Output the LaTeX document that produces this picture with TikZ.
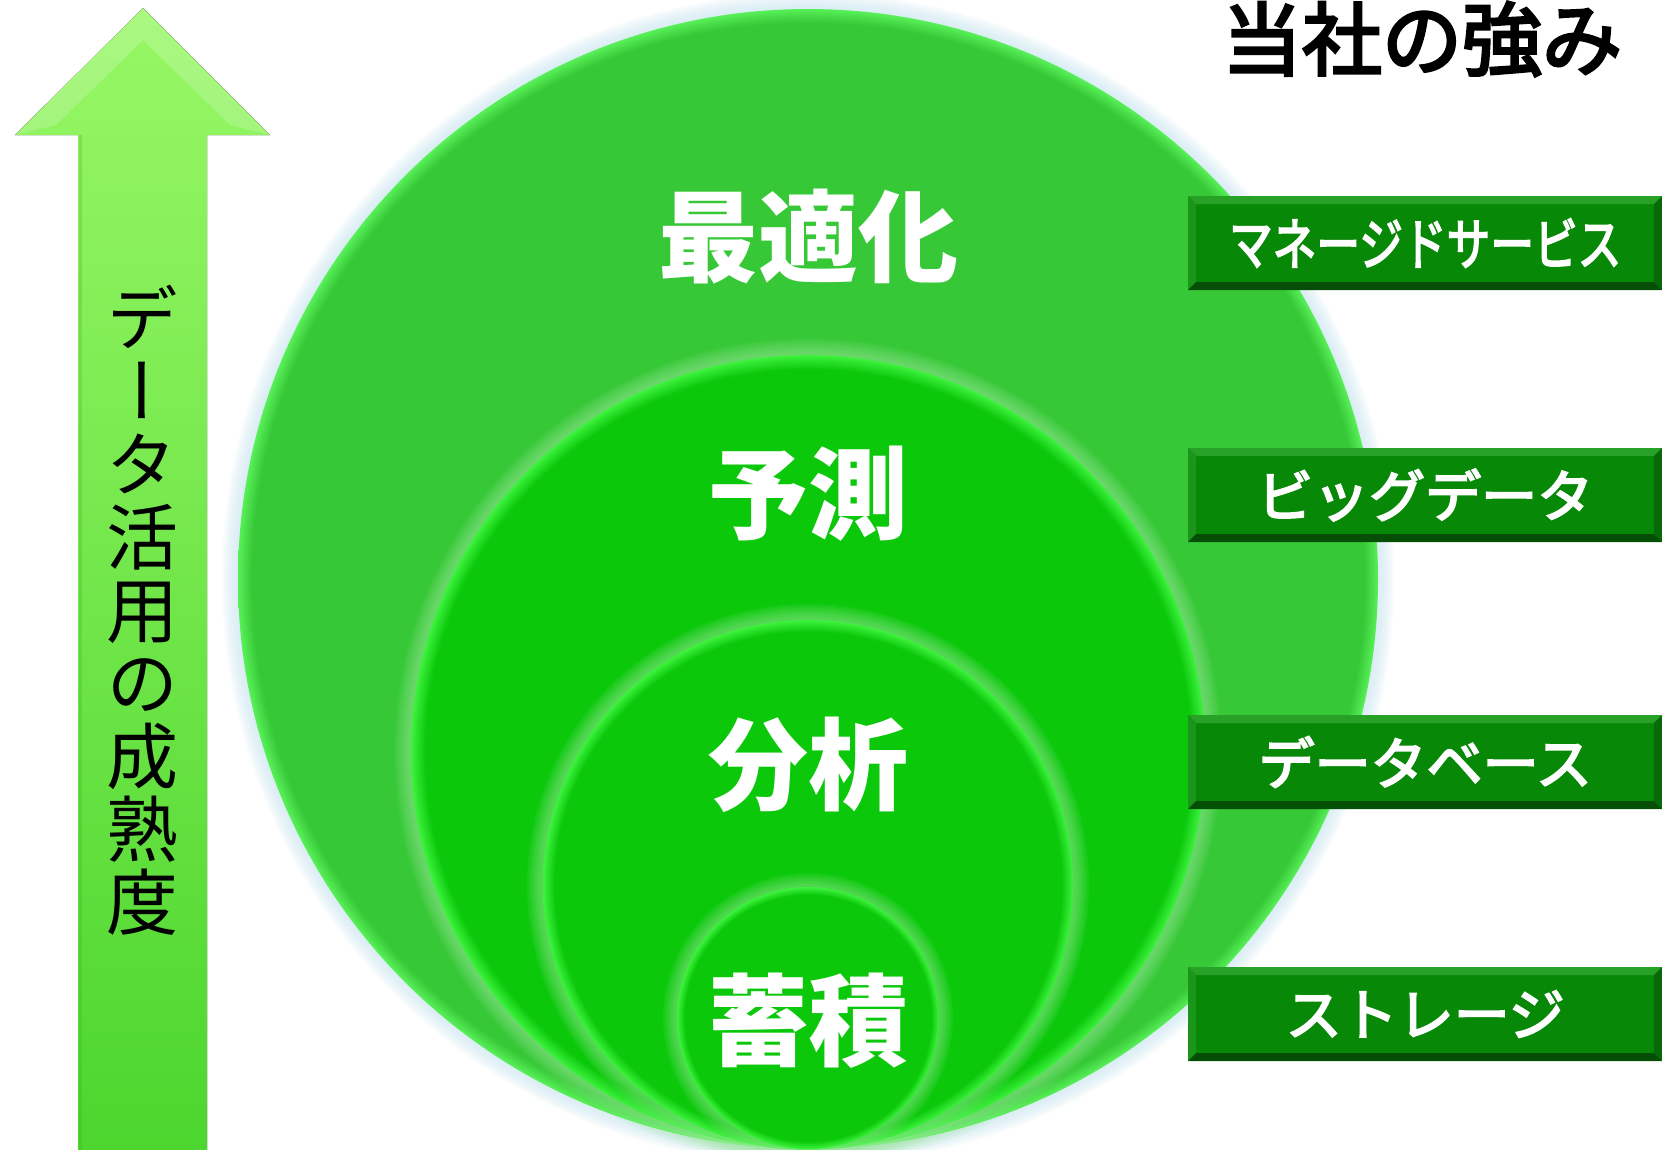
\documentclass[tikz,border=0pt]{standalone}
\usepackage{fontspec}
\usepackage{graphicx}
\newfontfamily\jp{Noto Sans CJK JP}
\newfontfamily\jpm[FakeBold=3.5]{Noto Sans CJK JP}
\newfontfamily\jpv[RawFeature=+vert]{Noto Sans CJK JP}
\definecolor{arrTop}{HTML}{98F766}
\definecolor{arrBot}{HTML}{4CD62E}
\definecolor{bigIn}{HTML}{37C837}
\definecolor{bigRim}{HTML}{58F058}
\definecolor{inIn}{HTML}{0BC80B}
\definecolor{inRim}{HTML}{3EF23E}
\definecolor{halo}{HTML}{9CEA9C}
\definecolor{bighalo}{HTML}{C8E4EE}
\definecolor{boxIn}{HTML}{078807}
\definecolor{bevT}{HTML}{27A227}
\definecolor{bevL}{HTML}{1A961A}
\definecolor{bevB}{HTML}{044E06}
\definecolor{bevR}{HTML}{056A07}
\pgfdeclareradialshading{shBig}{\pgfpoint{0bp}{0bp}}{color(0bp)=(bigIn); color(24.4bp)=(bigIn); color(25bp)=(bigRim); color(50bp)=(bigRim)}
\pgfdeclareradialshading{shTwo}{\pgfpoint{0bp}{0bp}}{color(0bp)=(inIn); color(24.1bp)=(inIn); color(25bp)=(inRim); color(50bp)=(inRim)}
\pgfdeclareradialshading{shThree}{\pgfpoint{0bp}{0bp}}{color(0bp)=(inIn); color(23.9bp)=(inIn); color(25bp)=(inRim); color(50bp)=(inRim)}
\pgfdeclareradialshading{shFour}{\pgfpoint{0bp}{0bp}}{color(0bp)=(inIn); color(23.5bp)=(inIn); color(25bp)=(inRim); color(50bp)=(inRim)}
\tikzset{
  circlabel/.style={text=white, inner sep=0pt, font=\jp\bfseries\fontsize{100}{100}\selectfont},
  greenbox/.style={minimum width=474pt, minimum height=94pt, inner sep=0pt, anchor=west,
    fill=boxIn, text=white, font=\jpm\fontsize{56}{56}\selectfont,
    path picture={
      \fill[bevT] (path picture bounding box.north west) -- (path picture bounding box.north east)
        -- ([xshift=-8pt,yshift=-8pt]path picture bounding box.north east)
        -- ([xshift=8pt,yshift=-8pt]path picture bounding box.north west) -- cycle;
      \fill[bevL] (path picture bounding box.north west) -- (path picture bounding box.south west)
        -- ([xshift=8pt,yshift=8pt]path picture bounding box.south west)
        -- ([xshift=8pt,yshift=-8pt]path picture bounding box.north west) -- cycle;
      \fill[bevB] (path picture bounding box.south west) -- (path picture bounding box.south east)
        -- ([xshift=-8pt,yshift=8pt]path picture bounding box.south east)
        -- ([xshift=8pt,yshift=8pt]path picture bounding box.south west) -- cycle;
      \fill[bevR] (path picture bounding box.north east) -- (path picture bounding box.south east)
        -- ([xshift=-8pt,yshift=8pt]path picture bounding box.south east)
        -- ([xshift=-8pt,yshift=-8pt]path picture bounding box.north east) -- cycle;
    }},
  vtext/.style={text=black, inner sep=0pt, align=center, font=\jpv\fontsize{72}{73}\selectfont},
  titletext/.style={text=black, inner sep=0pt, font=\jpm\fontsize{80}{80}\selectfont}
}
\begin{document}
\begin{tikzpicture}[x=1pt,y=-1pt]
\useasboundingbox (0,0) rectangle (1662,1149);
\clip (0,0) rectangle (1662,1149);
% arrow
\fill[top color=arrTop, bottom color=arrBot] (143,8) -- (270,135) -- (207,135) -- (207,1160) -- (78,1160) -- (78,135) -- (15,135) -- cycle;
\fill[white, opacity=0.18] (143,8) -- (270,135) -- (230,125) -- (143,40) -- (56,125) -- (15,135) -- cycle;
\draw[arrBot!80!black, opacity=0.25, line width=3pt] (80,135) -- (80,1160);
% big circle halo
\foreach \d in {2,4,...,16} { \fill[bighalo, opacity=0.12] (808,579) circle[radius=570+\d]; }
\shade[shading=shBig] (808,579) circle[radius=570];
% second circle
\foreach \d in {2,4,...,16} { \fill[halo, opacity=0.09] (808,752) circle[radius=397+\d]; }
\shade[shading=shTwo] (808,752) circle[radius=397];
% third circle
\foreach \d in {2,4,...,16} { \fill[halo, opacity=0.09] (808,885) circle[radius=265+\d]; }
\shade[shading=shThree] (808,885) circle[radius=265];
% fourth circle
\foreach \d in {2,4,...,14} { \fill[halo, opacity=0.09] (808,1018) circle[radius=131+\d]; }
\shade[shading=shFour] (808,1018) circle[radius=131];
% circle labels
\node[circlabel] (l1) at (808,237) {最適化};
\node[circlabel] (l2) at (808,494) {予測};
\node[circlabel] (l3) at (808,765) {分析};
\node[circlabel] (l4) at (808,1021) {蓄積};
% vertical label
\node[vtext] (v) at (142.5,610) {デ\\ー\\タ\\活\\用\\の\\成\\熟\\度};
% title
\node[titletext] (t) at (1422,39) {当社の強み};
% boxes
\node[greenbox] (b1) at (1188,243) {\scalebox{0.78}[1]{マネージドサービス}};
\node[greenbox] (b2) at (1188,495) {ビッグデータ};
\node[greenbox] (b3) at (1188,762) {データベース};
\node[greenbox] (b4) at (1188,1014) {ストレージ};
\end{tikzpicture}
\end{document}
